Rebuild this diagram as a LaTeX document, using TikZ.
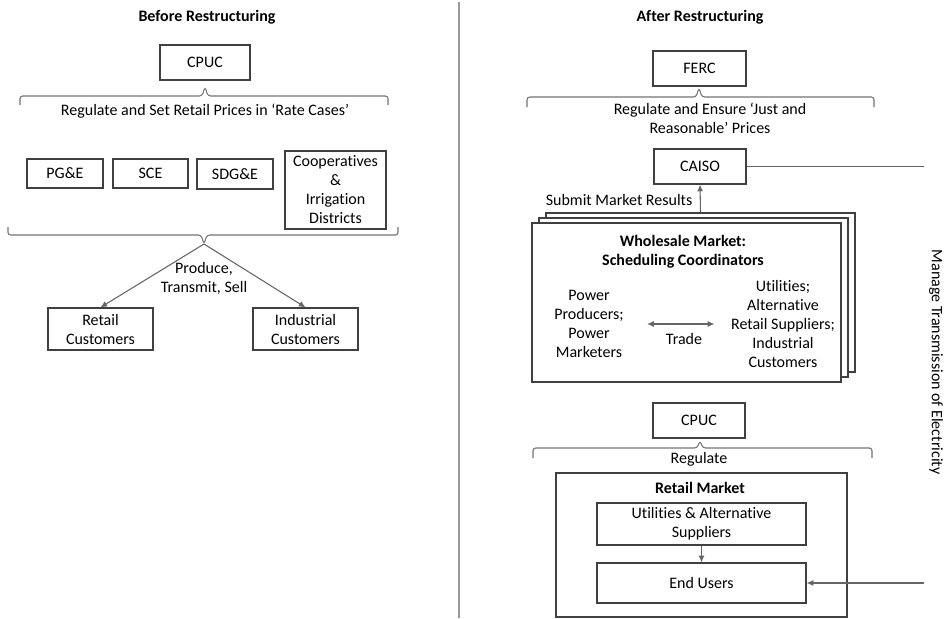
\documentclass[tikz,border=0pt]{standalone}
\usepackage{fontspec}
\setmainfont{Carlito}[Ligatures=NoCommon]
\usetikzlibrary{arrows.meta}

\begin{document}
\begin{tikzpicture}[x=0.75pt, y=-0.75pt,
		every node/.style={font=\fontsize{12}{14.25}\selectfont, align=center},
		box/.style={draw=black!75, fill=white, line width=0.9pt, inner sep=1pt},
		title/.style={font=\fontsize{12}{14.25}\selectfont\bfseries},
		con/.style={draw=black!60, line width=0.8pt},
		arr/.style={con, -{Latex[length=5pt, width=4.5pt]}},
		brc/.style={draw=black!55, line width=0.8pt, rounded corners=2pt}]
	\useasboundingbox (0,0) rectangle (948,618);

	% before restructuring
	\node[title] (before) at (207,17) {Before Restructuring};
	\node[box, minimum width=67.5pt, minimum height=26.25pt] (cpuca) at (205,62.5) {CPUC};
	\draw[brc] (20,105) -- (20,96) -- (202,96) -- (205,87) -- (208,96) -- (388,96) -- (388,105);
	\node (rate) at (205,111) {Regulate and Set Retail Prices in `Rate Cases'};

	\node[box, minimum width=57pt, minimum height=21.75pt] (pge) at (65,173.5) {PG\&E};
	\node[box, minimum width=56.25pt, minimum height=21.75pt] (sce) at (150.5,173.5) {SCE};
	\node[box, minimum width=57pt, minimum height=22.5pt] (sdge) at (235,174) {SDG\&E};
	\node[box, minimum width=75.75pt, minimum height=58.5pt] (coop) at (335.5,190) {Cooperatives\\\&\\Irrigation\\Districts};
	\draw[brc] (8,227) -- (8,235) -- (201,235) -- (204,244) -- (207,235) -- (398,235) -- (398,227);
	\coordinate (split) at (204,244);

	\node[box, minimum width=78.75pt, minimum height=31.5pt] (retail) at (100.5,329) {Retail\\Customers};
	\node[box, minimum width=78.75pt, minimum height=31.5pt] (industrial) at (305.5,329) {Industrial\\Customers};
	\node (produce) at (204,278) {Produce,\\Transmit, Sell};

	\draw[arr] (split) -- (retail.north);
	\draw[arr] (split) -- (industrial.north);

	\draw[draw=black!40, line width=0.8pt] (459,2) -- (459,618);

	% after restructuring
	\node[title] (after) at (700,17) {After Restructuring};
	\node[box, minimum width=69.75pt, minimum height=26.25pt] (ferc) at (699.5,68.5) {FERC};
	\draw[brc] (527,107) -- (527,97) -- (696,97) -- (699,88) -- (702,97) -- (874,97) -- (874,107);
	\node (just) at (710,118) {Regulate and Ensure `Just and\\Reasonable' Prices};

	\node[box, minimum width=69pt, minimum height=26.25pt] (caiso) at (700,166.5) {CAISO};

	\node[box, minimum width=231.75pt, minimum height=119.25pt] (wsback) at (700.5,292.5) {};
	\node[box, minimum width=231.75pt, minimum height=119.25pt] (wsmid) at (693.5,297.5) {};
	\node[box, minimum width=231.75pt, minimum height=119.25pt] (wsfront) at (686.5,302.5) {};
	\node[title] (wstitle) at (683,252) {Wholesale Market:\\Scheduling Coordinators};
	\node (producers) at (589,324) {Power\\Producers;\\Power\\Marketers};
	\node (buyers) at (783,324) {Utilities;\\Alternative\\Retail Suppliers;\\Industrial\\Customers};
	\node (trade) at (684,339) {Trade};
	\draw[con, {Latex[length=5pt, width=4.5pt]}-{Latex[length=5pt, width=4.5pt]}, shorten <=14pt, shorten >=9pt] (producers) -- (buyers);

	\draw[arr] (wsback.north) -- (caiso.south);
	\node[anchor=east] (submit) at (697,200) {Submit Market Results};

	\node[box, minimum width=69pt, minimum height=26.25pt] (cpucb) at (699,420.5) {CPUC};
	\draw[brc] (533,458) -- (533,448) -- (697,448) -- (700,441) -- (703,448) -- (872,448) -- (872,458);
	\node (regulate) at (699,459) {Regulate};

	\node[box, minimum width=218.25pt, minimum height=108pt] (retailmkt) at (701.5,545) {};
	\node[title] (rmtitle) at (700,488) {Retail Market};
	\node[box, minimum width=156.75pt, minimum height=31.5pt] (suppliers) at (701.5,524) {Utilities \& Alternative\\Suppliers};
	\node[box, minimum width=156.75pt, minimum height=30pt] (endusers) at (701.5,583) {End Users};
	\draw[arr] (suppliers) -- (endusers);

	\coordinate (mtop) at (924,166.5);
	\coordinate (mbot) at (924,583);
	\draw[con] (caiso) -- (mtop);
	\draw[arr] (mbot) -- (endusers);
	\node[rotate=-90] (manage) at (936,362) {Manage Transmission of Electricity};
\end{tikzpicture}
\end{document}
